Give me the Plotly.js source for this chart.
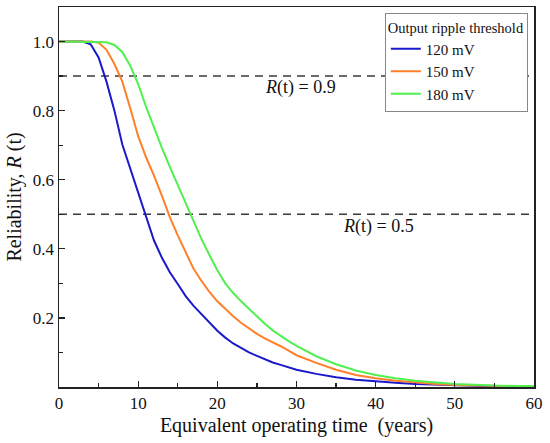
<!DOCTYPE html>
<html>
<head>
<meta charset="utf-8">
<script src="https://cdn.plot.ly/plotly-3.0.1.min.js"></script>
<style>html,body{margin:0;padding:0;background:#fff;}#chart{width:550px;height:443px;}</style>
</head>
<body>
<div id="chart"></div>
<script>
// Reliability curves (years vs R(t))
const years = [0, 1, 2, 3, 4, 5, 6, 7, 8, 9, 10, 11, 12, 13, 14, 15, 16, 17, 18, 19, 20,
  21, 22, 23, 24, 25, 26, 27, 28, 29, 30, 32.5, 35, 37.5, 40, 42.5, 45, 47.5, 50, 55, 60];

const r120 = [1, 1, 1, 1, 0.992, 0.954, 0.884, 0.8, 0.702, 0.632, 0.562, 0.488, 0.424, 0.374, 0.332, 0.298, 0.263, 0.235, 0.21, 0.185, 0.163,
  0.143, 0.126, 0.113, 0.1, 0.09, 0.08, 0.071, 0.064, 0.057, 0.05, 0.038, 0.028, 0.021, 0.016, 0.012, 0.009, 0.007, 0.005, 0.002, 0.001];

const r150 = [1, 1, 1, 1, 1, 0.997, 0.976, 0.935, 0.884, 0.807, 0.726, 0.665, 0.612, 0.553, 0.492, 0.439, 0.388, 0.342, 0.307, 0.275, 0.248,
  0.226, 0.205, 0.186, 0.169, 0.154, 0.141, 0.13, 0.118, 0.105, 0.092, 0.07, 0.05, 0.035, 0.025, 0.018, 0.013, 0.009, 0.006, 0.003, 0.001];

const r180 = [1, 1, 1, 1, 1, 1, 0.998, 0.99, 0.97, 0.93, 0.877, 0.811, 0.75, 0.692, 0.637, 0.585, 0.53, 0.477, 0.428, 0.382, 0.338,
  0.3, 0.272, 0.248, 0.226, 0.204, 0.183, 0.164, 0.148, 0.133, 0.119, 0.089, 0.066, 0.048, 0.035, 0.025, 0.018, 0.013, 0.009, 0.004, 0.002];

const seriesNames = ["120 mV", "150 mV", "180 mV"];
const thresholds = [0.9, 0.5];
const thresholdLabels = ["<i>R</i>(t) = 0.9", "<i>R</i>(t) = 0.5"];
const labelX = [30.5, 40.3];
const labelY = [0.868, 0.465];
const xSpan = [0, 60];
const xTickVals = [0, 10, 20, 30, 40, 50, 60];
const yTickVals = [0.2, 0.4, 0.6, 0.8, 1.0];
const yTickText = ["0.2", "0.4", "0.6", "0.8", "1.0"];

const colors = ["#1a1acc", "#ff7f2a", "#50f050"];
const font = "Liberation Serif";

const traces = [];
thresholds.forEach(v => {
  traces.push({x: xSpan, y: [v, v], mode: "lines", showlegend: false, hoverinfo: "skip",
    line: {color: "#3a3a3a", width: 1.5, dash: "8px,6px"}});
});
[r120, r150, r180].forEach((r, i) => {
  traces.push({x: years, y: r, mode: "lines", name: seriesNames[i],
    line: {color: colors[i], width: 2}});
});

const layout = {
  width: 550, height: 443,
  margin: {l: 59, r: 16, t: 7, b: 56},
  paper_bgcolor: "#fff", plot_bgcolor: "#fff",
  font: {family: font, color: "#111", size: 17},
  xaxis: {
    range: [0, 60], tickvals: xTickVals,
    ticks: "inside", ticklen: 6, tickwidth: 1.3, tickcolor: "#222",
    minor: {ticks: "inside", tickvals: [5, 15, 25, 35, 45, 55], ticklen: 4, tickcolor: "#222", tickwidth: 1.2},
    showline: true, linecolor: "#222", linewidth: 1.5, mirror: true,
    showgrid: false, zeroline: false,
    tickfont: {size: 17, family: font},
    title: {text: "Equivalent operating time  (years)", font: {size: 20, family: font}, standoff: 6}
  },
  yaxis: {
    range: [0, 1.1], tickvals: yTickVals, ticktext: yTickText,
    ticks: "inside", ticklen: 6, tickwidth: 1.3, tickcolor: "#222",
    minor: {ticks: "inside", tickvals: [0.1, 0.3, 0.5, 0.7, 0.9], ticklen: 4, tickcolor: "#222", tickwidth: 1.2},
    showline: true, linecolor: "#222", linewidth: 1.5, mirror: true,
    showgrid: false, zeroline: false,
    tickfont: {size: 17, family: font},
    title: {text: "Reliability, <i>R</i> (t)", font: {size: 20, family: font}, standoff: 6}
  },
  legend: {
    x: 0.987, y: 0.985, xanchor: "right", yanchor: "top",
    bgcolor: "#fff", bordercolor: "#888", borderwidth: 1,
    font: {size: 15, family: font},
    title: {text: "Output ripple threshold", font: {size: 14.5, family: font}},
    tracegroupgap: 0, itemwidth: 30
  },
  annotations: thresholdLabels.map((txt, i) => ({
    x: labelX[i], y: labelY[i], xref: "x", yref: "y", text: txt, showarrow: false,
    font: {size: 18, family: font, color: "#111"}
  })),
  showlegend: true
};

Plotly.newPlot("chart", traces, layout, {displayModeBar: false, staticPlot: true});
</script>
</body>
</html>
